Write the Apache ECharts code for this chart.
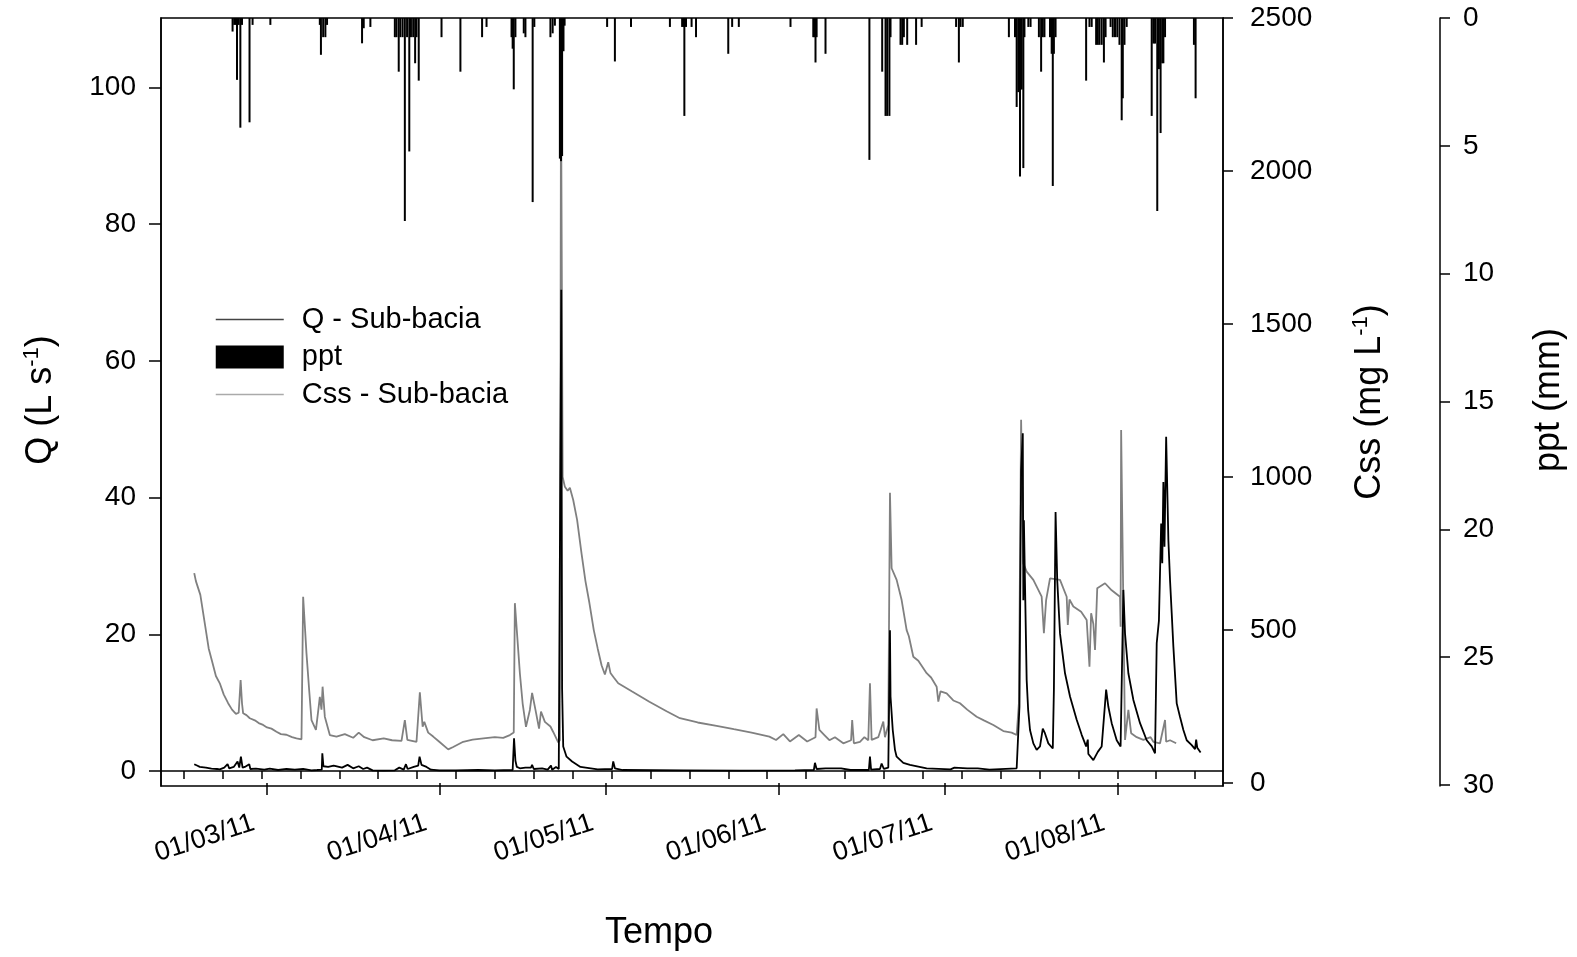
<!DOCTYPE html>
<html>
<head>
<meta charset="utf-8">
<script src="https://cdn.jsdelivr.net/npm/echarts@6/dist/echarts.min.js"></script>
<style>
  html, body { margin: 0; padding: 0; background: #fff; }
  #chart { width: 1577px; height: 957px; }
</style>
</head>
<body>
<div id="chart"></div>
<script>
// time is kept as day of year 2011 (1 = 01/01)
const qDay = [46.9, 47.4, 47.9, 49.0, 50.0, 51.0, 51.5, 52.3, 52.9, 53.2, 54.0, 54.7, 55.0, 55.3, 55.6, 56.0, 56.8, 57.0, 58.0, 59.5,
  60.5, 62.0, 63.5, 65.0, 66.5, 68.0, 69.0, 69.85, 69.95, 70.15, 71.0, 72.0, 73.5, 74.5, 75.5, 76.5, 77.3, 78.0, 79.0, 81.0,
  83.0, 83.8, 84.6, 85.0, 85.3, 86.4, 87.2, 87.45, 87.8, 88.7, 89.5, 91.0, 94.0, 98.0, 101.0, 104.2, 104.45, 104.7, 104.95, 105.5,
  106.5, 107.5, 107.7, 108.0, 109.5, 110.5, 111.1, 111.3, 112.0, 112.5, 112.75, 112.95, 113.1, 113.3, 113.9, 114.9, 116.4, 119.5, 122.1, 122.3,
  122.6, 124.0, 135.0, 145.0, 155.0, 158.4, 158.6, 158.9, 160.5, 163.3, 165.0, 168.3, 168.5, 168.7, 170.3, 170.6, 171.0, 171.8, 172.1, 172.2,
  172.6, 173.0, 173.3, 174.5, 175.7, 178.7, 183.0, 183.7, 186.0, 187.9, 190.0, 194.9, 195.4, 195.7, 196.0, 196.1, 196.2, 196.7, 196.97, 197.3,
  197.9, 198.5, 199.1, 199.6, 200.0, 200.6, 201.4, 201.6, 201.9, 202.2, 202.7, 203.6, 204.5, 205.7, 206.6, 207.4, 207.7, 207.8, 208.7, 209.5,
  210.2, 211.0, 211.4, 212.0, 212.9, 213.6, 214.1, 214.4, 215.0, 215.9, 217.1, 218.3, 219.2, 219.8, 220.1, 220.5, 220.9, 221.1, 221.3, 221.5,
  221.8, 222.2, 222.5, 222.8, 223.1, 223.7, 224.3, 224.9, 225.5, 226.4, 227.0, 227.2, 227.4, 228.0];
const qVal = [1.0, 0.8, 0.6, 0.5, 0.35, 0.3, 0.25, 0.5, 1.0, 0.4, 0.6, 1.4, 0.5, 2.1, 0.5, 0.6, 1.0, 0.3, 0.35, 0.2,
  0.35, 0.15, 0.3, 0.2, 0.3, 0.1, 0.15, 0.2, 2.6, 0.7, 0.6, 0.8, 0.5, 0.9, 0.4, 0.7, 0.3, 0.5, 0.1, 0.05,
  0.1, 0.5, 0.2, 1.0, 0.3, 0.6, 0.8, 2.1, 0.9, 0.6, 0.2, 0.1, 0.1, 0.15, 0.1, 0.15, 4.8, 1.5, 0.6, 0.4,
  0.5, 0.5, 0.9, 0.3, 0.4, 0.2, 0.8, 0.2, 0.6, 0.3, 0.4, 70.4, 12, 3.6, 2.1, 1.4, 0.6, 0.25, 0.3, 1.4,
  0.4, 0.15, 0.1, 0.05, 0.1, 0.15, 1.2, 0.3, 0.4, 0.4, 0.15, 0.15, 2.1, 0.2, 0.3, 1.1, 0.3, 0.5, 20.6, 10.9,
  6.0, 3.1, 2.1, 1.2, 0.9, 0.4, 0.25, 0.5, 0.4, 0.4, 0.2, 0.4, 9.4, 44.0, 49.4, 25.0, 36.7, 13.3, 8.9, 6.0,
  4.05, 3.1, 3.6, 6.2, 5.5, 4.05, 3.3, 11.9, 37.9, 27.9, 20.1, 14.3, 10.9, 7.5, 5.3, 3.6, 4.6, 2.5, 1.6, 2.8,
  3.6, 11.9, 9.4, 7.0, 4.5, 3.6, 26.5, 20.1, 14.3, 10.4, 7.0, 4.5, 3.6, 2.6, 18.7, 22.0, 36.2, 30.4, 42.3, 32.8,
  48.9, 33.8, 27.9, 23.1, 18.2, 9.9, 7.9, 6.0, 4.5, 3.8, 3.2, 4.6, 3.4, 2.7];

const cssDay = [46.9, 47.2, 47.5, 48.0, 48.8, 49.5, 50.05, 50.8, 51.5, 52.2, 53.0, 53.7, 54.4, 54.9, 55.25, 55.5, 55.7, 56.3, 56.9, 57.8,
  58.5, 59.3, 60.0, 60.8, 61.7, 62.5, 63.5, 64.5, 65.3, 66.2, 66.5, 67.1, 67.6, 68.0, 68.8, 69.3, 69.5, 69.8, 70.0, 70.4,
  71.3, 72.5, 74.0, 75.5, 76.5, 77.5, 79.0, 81.0, 82.5, 84.2, 84.8, 85.25, 86.9, 87.5, 88.0, 88.3, 89.0, 89.9, 91.0, 92.6,
  93.5, 95.3, 97.0, 98.95, 101.0, 102.5, 103.7, 104.4, 104.6, 105.5, 106.0, 106.6, 107.3, 107.7, 108.3, 108.95, 109.3, 110.0, 111.0, 111.5,
  112.4, 112.7, 112.9, 113.2, 113.6, 114.1, 114.5, 115.1, 115.8, 116.6, 117.3, 118.0, 118.8, 119.5, 120.2, 120.8, 121.4, 121.8, 122.4, 123.2,
  125.7, 128.8, 131.9, 134.3, 137.5, 140.9, 144.0, 147.2, 150.4, 151.6, 152.9, 154.1, 155.7, 157.2, 158.7, 158.9, 159.4, 160.3, 161.2, 162.2,
  163.7, 165.1, 165.3, 165.6, 166.7, 167.5, 168.2, 168.5, 168.8, 170.0, 170.9, 171.2, 171.8, 172.1, 172.4, 173.3, 174.2, 175.1, 175.5, 176.3,
  177.2, 178.7, 179.5, 180.5, 180.8, 181.2, 182.3, 183.5, 184.7, 186.0, 187.7, 189.0, 190.7, 192.5, 194.0, 194.9, 195.3, 195.7, 196.1, 196.7,
  197.9, 199.4, 199.8, 200.2, 200.9, 202.7, 203.9, 204.1, 204.4, 205.1, 206.5, 207.5, 208.0, 208.3, 208.7, 209.0, 209.4, 210.8, 212.0, 213.5,
  213.6, 213.7, 214.4, 215.0, 215.5, 216.5, 217.7, 219.0, 219.5, 220.7, 221.6, 221.8, 222.5, 223.6];
const cssVal = [686, 660, 664, 615, 522, 440, 402, 350, 326, 290, 261, 240, 226, 230, 337, 260, 228, 222, 212, 205,
  196, 190, 182, 178, 168, 160, 158, 150, 146, 143, 609, 424, 300, 206, 174, 250, 282, 240, 315, 217,
  157, 152, 160, 148, 165, 150, 140, 146, 140, 138, 206, 141, 135, 297, 184, 200, 165, 152, 135, 110,
  118, 135, 142, 146, 150, 148, 157, 165, 588, 359, 260, 184, 239, 295, 240, 178, 234, 200, 185, 167,
  133, 140, 2300, 1000, 968, 955, 965, 925, 860, 750, 660, 590, 500, 440, 385, 355, 395, 360, 345, 326,
  299, 266, 235, 212, 198, 187, 176, 165, 152, 141, 160, 136, 157, 136, 150, 244, 174, 157, 140, 150,
  130, 140, 206, 130, 135, 150, 140, 326, 141, 150, 201, 150, 190, 949, 702, 664, 598, 500, 480, 413,
  400, 359, 345, 315, 266, 300, 293, 270, 261, 240, 217, 205, 190, 170, 165, 157, 261, 1187, 718, 691,
  664, 609, 490, 598, 669, 664, 609, 517, 600, 577, 560, 533, 380, 555, 520, 435, 637, 653, 630, 609,
  511, 1154, 141, 239, 163, 150, 141, 150, 135, 130, 206, 135, 140, 130];

const pptDay = [53.8, 54.1, 54.4, 54.6, 54.9, 55.2, 55.5, 56.85, 57.4, 60.6, 69.5, 69.7, 70.1, 70.5, 70.8, 77.1, 77.4, 78.6,
  83.0, 83.3, 83.7, 84.0, 84.4, 84.8, 85.2, 85.6, 85.9, 86.3, 86.65, 86.9, 87.3, 91.4, 94.8, 98.7, 99.5,
  104.0, 104.2, 104.4, 104.7, 106.2, 106.5, 107.8, 108.1, 111.0, 111.4, 111.8, 112.7, 112.9, 113.1, 113.35, 113.55,
  121.2, 122.6, 125.5, 132.5, 134.7, 135.0, 135.1, 135.4, 136.4, 137.2, 143.0, 143.7, 144.9, 154.2,
  158.3, 158.5, 158.7, 158.9, 160.5, 168.4, 170.7, 171.3, 171.6, 172.0, 172.2, 174.0, 174.3, 174.6, 175.2, 176.8, 177.8,
  184.0, 184.5, 184.8, 185.2, 193.5, 194.6, 194.9, 195.2, 195.5, 195.8, 196.1, 196.3, 197.0, 197.4,
  198.9, 199.3, 199.6, 199.9, 200.9, 201.2, 201.4, 201.6, 201.9, 207.4, 208.0, 208.4,
  209.2, 209.5, 209.8, 210.2, 210.6, 210.9, 211.8, 212.2, 212.6, 213.0, 213.4, 213.8, 214.0, 214.3, 214.7,
  219.2, 219.5, 219.8, 220.2, 220.5, 220.8, 221.1, 221.3, 221.6, 226.8, 227.1];
const pptMm = [0.53, 0.27, 0.27, 2.42, 0.27, 4.29, 0.27, 4.08, 0.27, 0.27, 0.27, 1.44, 0.75, 0.75, 0.27, 0.99, 0.4, 0.35,
  0.75, 0.75, 2.1, 0.75, 0.75, 7.94, 0.75, 5.22, 0.75, 0.75, 1.77, 0.75, 2.45, 0.75, 2.1, 0.75, 0.35,
  0.75, 1.2, 2.79, 0.75, 0.6, 0.75, 7.2, 0.35, 0.75, 0.6, 0.3, 5.5, 5.6, 5.4, 1.3, 0.3,
  0.35, 1.7, 0.35, 0.35, 0.35, 0.35, 3.83, 0.35, 0.35, 0.75, 1.4, 0.35, 0.35, 0.35,
  0.75, 0.75, 1.74, 0.75, 1.4, 5.55, 2.1, 3.83, 3.83, 3.83, 0.75, 1.05, 1.05, 0.75, 1.05, 1.05, 0.35,
  0.35, 1.74, 0.35, 0.35, 0.75, 0.75, 3.48, 2.9, 6.2, 2.8, 5.87, 0.75, 0.35, 0.35,
  0.75, 2.1, 0.75, 0.75, 0.75, 1.4, 6.57, 1.4, 0.75, 2.45, 0.35, 0.35,
  1.05, 1.05, 1.05, 1.05, 1.74, 0.75, 0.35, 0.75, 0.75, 0.75, 1.05, 4.0, 3.14, 1.05, 0.35,
  3.83, 1.0, 1.0, 7.55, 2.0, 4.5, 1.77, 1.77, 0.75, 1.05, 3.14];

// tick labels on the time axis (first day of each month)
const monthTicks = ['2011-03-01', '2011-04-01', '2011-05-01', '2011-06-01', '2011-07-01', '2011-08-01'];
const qTicks = [0, 20, 40, 60, 80, 100];
const cssTicks = [0, 500, 1000, 1500, 2000, 2500];
const pptTicks = [0, 5, 10, 15, 20, 25, 30];

const DAY = 86400000;
const doyToTime = d => Date.UTC(2011, 0, 1) + (d - 1) * DAY;
const pair = (days, vals) => days.map((d, i) => [doyToTime(d), vals[i]]);

const monthTimes = monthTicks.map(s => Date.parse(s + 'T00:00:00Z'));
// minor ticks every monday
const weekTimes = [];
for (let d = 45; d <= 232; d += 7) weekTimes.push(doyToTime(d));

const xMin = doyToTime(40.92);
const xMax = doyToTime(232.03);

const FONT = 'Liberation Sans';
const pad = n => String(n).padStart(2, '0');
function fmtDate(v) {
  const d = new Date(v);
  return pad(d.getUTCDate()) + '/' + pad(d.getUTCMonth() + 1) + '/' + pad(d.getUTCFullYear() % 100);
}
const plain = v => String(v);

const chart = echarts.init(document.getElementById('chart'), null, { renderer: 'canvas' });

const axisLine = { show: true, lineStyle: { color: '#000', width: 1.5 } };
const tickLabel = { fontFamily: FONT, fontSize: 28, color: '#000', formatter: plain };

const option = {
  animation: false,
  backgroundColor: '#fff',
  textStyle: { fontFamily: FONT, color: '#000' },
  grid: {
    left: 161, right: 354, top: 18, bottom: 171,
    show: true, borderColor: '#000', borderWidth: 1.5,
    outerBoundsMode: 'none'
  },
  legend: {
    orient: 'vertical',
    left: 215,
    top: 305,
    padding: 0,
    itemWidth: 68,
    itemHeight: 23,
    itemGap: 8.5,
    selectedMode: false,
    textStyle: { fontFamily: FONT, fontSize: 29, color: '#000', lineHeight: 26, padding: [0, 0, 0, 13] },
    data: [
      { name: 'Q - Sub-bacia', itemStyle: { opacity: 0 }, lineStyle: { color: '#444', width: 1.5 } },
      { name: 'ppt', icon: 'rect', itemStyle: { color: '#000' } },
      { name: 'Css - Sub-bacia', itemStyle: { opacity: 0 }, lineStyle: { color: '#aaa', width: 1.5 } }
    ]
  },
  // time as epoch milliseconds on value axes, ticks placed by customValues
  xAxis: [
    {
      type: 'value', position: 'bottom', min: xMin, max: xMax,
      axisLine: axisLine,
      axisTick: { show: true, length: 8, inside: false, customValues: weekTimes, lineStyle: { color: '#000', width: 1.5 } },
      axisLabel: { show: false },
      splitLine: { show: false }
    },
    {
      type: 'value', position: 'bottom', min: xMin, max: xMax,
      axisLine: { show: false },
      axisTick: { show: true, length: 12, customValues: monthTimes, lineStyle: { color: '#000', width: 1.5 } },
      axisLabel: {
        customValues: monthTimes, rotate: 18, margin: 32, padding: [0, 14, 0, 0],
        fontFamily: FONT, fontSize: 27, color: '#000', formatter: fmtDate
      },
      splitLine: { show: false }
    }
  ],
  yAxis: [
    {
      type: 'value', position: 'left', min: -2.19, max: 110.17,
      axisLine: axisLine,
      axisTick: { show: true, length: 12, customValues: qTicks, lineStyle: { color: '#000', width: 1.5 } },
      axisLabel: Object.assign({ customValues: qTicks, margin: 25 }, tickLabel),
      splitLine: { show: false }
    },
    {
      type: 'value', position: 'right', min: -9.5, max: 2500,
      axisLine: axisLine,
      axisTick: { show: true, length: 10, customValues: cssTicks, lineStyle: { color: '#000', width: 1.5 } },
      axisLabel: Object.assign({ customValues: cssTicks, margin: 27 }, tickLabel),
      splitLine: { show: false }
    },
    {
      type: 'value', position: 'right', offset: 217, inverse: true, min: 0, max: 30.04,
      axisLine: axisLine,
      axisTick: { show: true, length: 10, customValues: pptTicks, lineStyle: { color: '#000', width: 1.5 } },
      axisLabel: Object.assign({ customValues: pptTicks, margin: 23 }, tickLabel),
      splitLine: { show: false }
    }
  ],
  series: [
    {
      name: 'Q - Sub-bacia', type: 'line', xAxisIndex: 0, yAxisIndex: 0, z: 3,
      data: pair(qDay, qVal), showSymbol: false, symbol: 'none',
      lineStyle: { color: '#000', width: 1.8 }, itemStyle: { color: '#000' }
    },
    {
      name: 'ppt', type: 'bar', xAxisIndex: 0, yAxisIndex: 2, z: 4,
      data: pair(pptDay, pptMm), barWidth: 2, barGap: '-100%',
      itemStyle: { color: '#000' }
    },
    {
      name: 'Css - Sub-bacia', type: 'line', xAxisIndex: 0, yAxisIndex: 1, z: 2,
      data: pair(cssDay, cssVal), showSymbol: false, symbol: 'none',
      lineStyle: { color: '#808080', width: 1.8 }, itemStyle: { color: '#808080' }
    }
  ],
  graphic: [
    {
      type: 'text', x: 41, y: 400, rotation: Math.PI / 2,
      style: {
        text: '{n|Q (L s}{s|-1}{n|)}', align: 'center', verticalAlign: 'middle',
        rich: { n: { fontFamily: FONT, fontSize: 36, lineHeight: 40 }, s: { fontFamily: FONT, fontSize: 22, lineHeight: 22, verticalAlign: 'top' } }
      }
    },
    {
      type: 'text', x: 1370, y: 402, rotation: Math.PI / 2,
      style: {
        text: '{n|Css (mg L}{s|-1}{n|)}', align: 'center', verticalAlign: 'middle',
        rich: { n: { fontFamily: FONT, fontSize: 36, lineHeight: 40 }, s: { fontFamily: FONT, fontSize: 22, lineHeight: 22, verticalAlign: 'top' } }
      }
    },
    {
      type: 'text', x: 1549, y: 400, rotation: Math.PI / 2,
      style: { text: 'ppt (mm)', align: 'center', verticalAlign: 'middle', font: '36px "Liberation Sans"', fill: '#000' }
    },
    {
      type: 'text', x: 659, y: 933,
      style: { text: 'Tempo', align: 'center', verticalAlign: 'middle', font: '36px "Liberation Sans"', fill: '#000' }
    }
  ]
};

chart.setOption(option);
</script>
</body>
</html>
